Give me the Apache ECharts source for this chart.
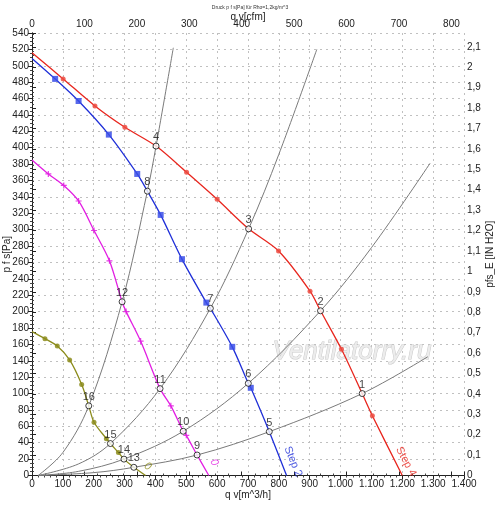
<!DOCTYPE html>
<html>
<head>
<meta charset="utf-8">
<script src="https://cdn.jsdelivr.net/npm/echarts@6/dist/echarts.min.js"></script>
<style>
html,body{margin:0;padding:0;background:#fff;}
#chart{width:500px;height:507px;}
</style>
</head>
<body>
<div id="chart"></div>
<script>
// ---- data (x: q v [m^3/h], y: p f s [Pa]) ----
const step4Curve = [[0,516],[101,484],[204,451],[301,425],[402,402],[501,370],[600,337],[702,301],[799,274],[901,225],[935,201],[1003,154],[1070,100],[1103,73],[1200,0]];
const step4Marks = [[101,484],[204,451],[301,425],[501,370],[600,337],[799,274],[901,225],[1003,154],[1103,73]];

const step2Curve = [[0,509],[75,484],[151,457],[249,416],[341,368],[374,347],[417,318],[486,264],[565,211],[578,204],[649,157],[701,112.5],[709,107],[769,53.5],[825,0]];
const step2Marks = [[75,484],[151,457],[249,416],[341,368],[417,318],[486,264],[565,211],[649,157],[709,107]];

const magentaCurve = [[0,385],[53,368],[103,354],[151,335],[201,299],[251,262],[292,212],[305,200],[352,164],[415,106],[450,85],[490,54],[500,49],[535,25],[573,0]];
const magentaMarks = [[53,368],[103,354],[151,335],[201,299],[251,262],[305,200],[352,164],[450,85],[500,49]];

const oliveCurve = [[0,175.5],[42,167],[82,158],[122,141],[161,111],[184,85],[201,65],[241,45],[254,39],[280,28],[298,20],[330,10],[368,0]];
const oliveMarks = [[42,167],[82,158],[122,141],[161,111],[201,65],[241,45],[280,28]];

const systemA = [[20,0],[100,28],[184,85],[292,212],[374,347],[402,402],[458,522]];
const systemB = [[20,0],[150,14],[254,39],[415,106],[578,204],[702,301],[800,392],[923,520]];
const systemC = [[20,0],[150,5],[298,20],[490,54],[701,112.5],[935,201],[1100,278],[1290,381]];
const systemD = [[20,0],[200,3.5],[330,10],[535,25],[769,53.5],[1070,100],[1283,145]];

const opNames  = ['1','2','3','4','5','6','7','8','9','10','11','12','13','14','15','16'];
const opPoints = [[1070,100],[935,201],[702,301],[402,402],[769,53.5],[701,112.5],[578,204],[374,347],[535,25],[490,54],[415,106],[292,212],[330,10],[298,20],[254,39],[184,85]];

const M3H_PER_CFM = 1.699;
const PA_PER_INH2O = 249.089;

const FONT = 'Liberation Sans, Arial, sans-serif';
const chart = echarts.init(document.getElementById('chart'));

function thou(v){
  const s = String(Math.round(v));
  return s.replace(/\B(?=(\d{3})+(?!\d))/g, '.');
}
function comma(v){
  return String(Math.round(v*10)/10).replace('.', ',');
}

const gray = '#7a7a7a';
function sysLine(d){
  return {type:'line', data:d, smooth:0.35, showSymbol:false, symbol:'none',
    lineStyle:{color:gray, width:1}, z:2, silent:true};
}
function fanLine(d, c){
  return {type:'line', data:d, smooth:0.3, showSymbol:false, symbol:'none',
    lineStyle:{color:c, width:1.3}, z:3, silent:true};
}
function fanMarks(d, c, sym, size){
  return {type:'scatter', data:d, symbol:sym, symbolSize:size,
    itemStyle:{color:c, opacity:0.85}, z:4, silent:true};
}
const plusPath = 'path://M4,0H6V4H10V6H6V10H4V6H0V4H4Z';

const axisLbl = {color:'#222', fontSize:10, fontFamily:FONT};
const axisLine = {show:true, lineStyle:{color:'#222', width:1}};
const nameStyle = {color:'#222', fontSize:10, fontFamily:FONT};

chart.setOption({
  animation:false,
  backgroundColor:'#fff',
  textStyle:{fontFamily:FONT},
  title:{text:'Druck p f s[Pa] für Rho=1,2kg/m^3', left:'center', top:0,
    textStyle:{fontSize:5, fontWeight:'normal', color:'#333', fontFamily:FONT}},
  grid:{left:32, right:36, top:33, bottom:31.5, containLabel:false, outerBoundsMode:'none'},
  xAxis:[
    {type:'value', position:'bottom', min:0, max:1400, interval:100,
     name:'q v[m^3/h]', nameLocation:'middle', nameGap:15, nameMoveOverlap:false,
     nameTextStyle:nameStyle,
     axisLine:axisLine, axisTick:{show:true, length:4, lineStyle:{color:'#222'}},
     minorTick:{show:true, splitNumber:5, length:2, lineStyle:{color:'#444'}},
     axisLabel:Object.assign({formatter:thou, margin:4}, axisLbl),
     splitLine:{show:true, lineStyle:{color:'#c0c0c0', type:[2,4], width:1}}},
    {type:'value', position:'top', min:0, max:1400/M3H_PER_CFM, interval:100,
     name:'q v[cfm]', nameLocation:'middle', nameGap:11, nameMoveOverlap:false,
     nameTextStyle:nameStyle,
     axisLine:axisLine, axisTick:{show:true, length:4, lineStyle:{color:'#222'}},
     minorTick:{show:true, splitNumber:4, length:2, lineStyle:{color:'#444'}},
     axisLabel:Object.assign({showMaxLabel:false, margin:4}, axisLbl),
     splitLine:{show:false}}
  ],
  yAxis:[
    {type:'value', position:'left', min:0, max:540, interval:20,
     name:'p f s[Pa]', nameLocation:'middle', nameGap:20, nameRotate:90, nameMoveOverlap:false,
     nameTextStyle:nameStyle,
     axisLine:axisLine, axisTick:{show:true, length:4, lineStyle:{color:'#222'}},
     minorTick:{show:true, splitNumber:4, length:2, lineStyle:{color:'#444'}},
     axisLabel:Object.assign({margin:3}, axisLbl),
     splitLine:{show:true, lineStyle:{color:'#c0c0c0', type:[2,4], width:1}}},
    {type:'value', position:'right', min:0, max:540/PA_PER_INH2O, interval:0.1,
     name:'pfs_E [IN H2O]', nameLocation:'middle', nameGap:21, nameRotate:90, nameMoveOverlap:false,
     nameTextStyle:nameStyle,
     axisLine:axisLine, axisTick:{show:true, length:4, lineStyle:{color:'#222'}},
     minorTick:{show:true, splitNumber:5, length:2, lineStyle:{color:'#444'}},
     axisLabel:Object.assign({formatter:comma, showMaxLabel:false, margin:3}, axisLbl),
     splitLine:{show:false}}
  ],
  graphic:[
    {type:'text', left:272, top:338, z:1, silent:true,
     style:{text:'Ventilatorry.ru', font:'italic 26px '+FONT, fill:'#ececec', stroke:'#c9c9c9', lineWidth:1}}
  ],
  series:[
    sysLine(systemA), sysLine(systemB), sysLine(systemC), sysLine(systemD),
    fanLine(step4Curve, '#e8261e'),
    fanMarks(step4Marks, '#ec4a40', 'circle', 5),
    fanLine(step2Curve, '#1f2fd8'),
    fanMarks(step2Marks, '#3a4ee8', 'rect', 6),
    fanLine(magentaCurve, '#e21ee2'),
    fanMarks(magentaMarks, '#e21ee2', plusPath, 6),
    fanLine(oliveCurve, '#8c8c1c'),
    fanMarks(oliveMarks, '#8c8c1c', 'circle', 5),
    {type:'scatter', z:6, silent:true,
     data:opPoints.map((p,i)=>({name:opNames[i], value:p})),
     symbol:'circle', symbolSize:6,
     itemStyle:{color:'#fff', borderColor:'#111', borderWidth:1},
     label:{show:true, position:'top', distance:0, formatter:'{b}', color:'#111', fontSize:11, fontFamily:FONT}},
    {type:'scatter', z:6, silent:true, symbolSize:0,
     data:[
       {name:'Step 2', value:[846,17], label:{color:'#1f2fd8', rotate:-68}},
       {name:'Step 4', value:[1212,17], label:{color:'#e8261e', rotate:-62}},
       {name:'0', value:[590,16], label:{color:'#e21ee2', rotate:-61, fontStyle:'italic'}},
       {name:'0', value:[375,11], label:{color:'#8c8c1c', rotate:-34, fontStyle:'italic'}}
     ],
     label:{show:true, position:'inside', formatter:'{b}', fontSize:11, fontFamily:FONT}}
  ]
});
</script>
</body>
</html>
